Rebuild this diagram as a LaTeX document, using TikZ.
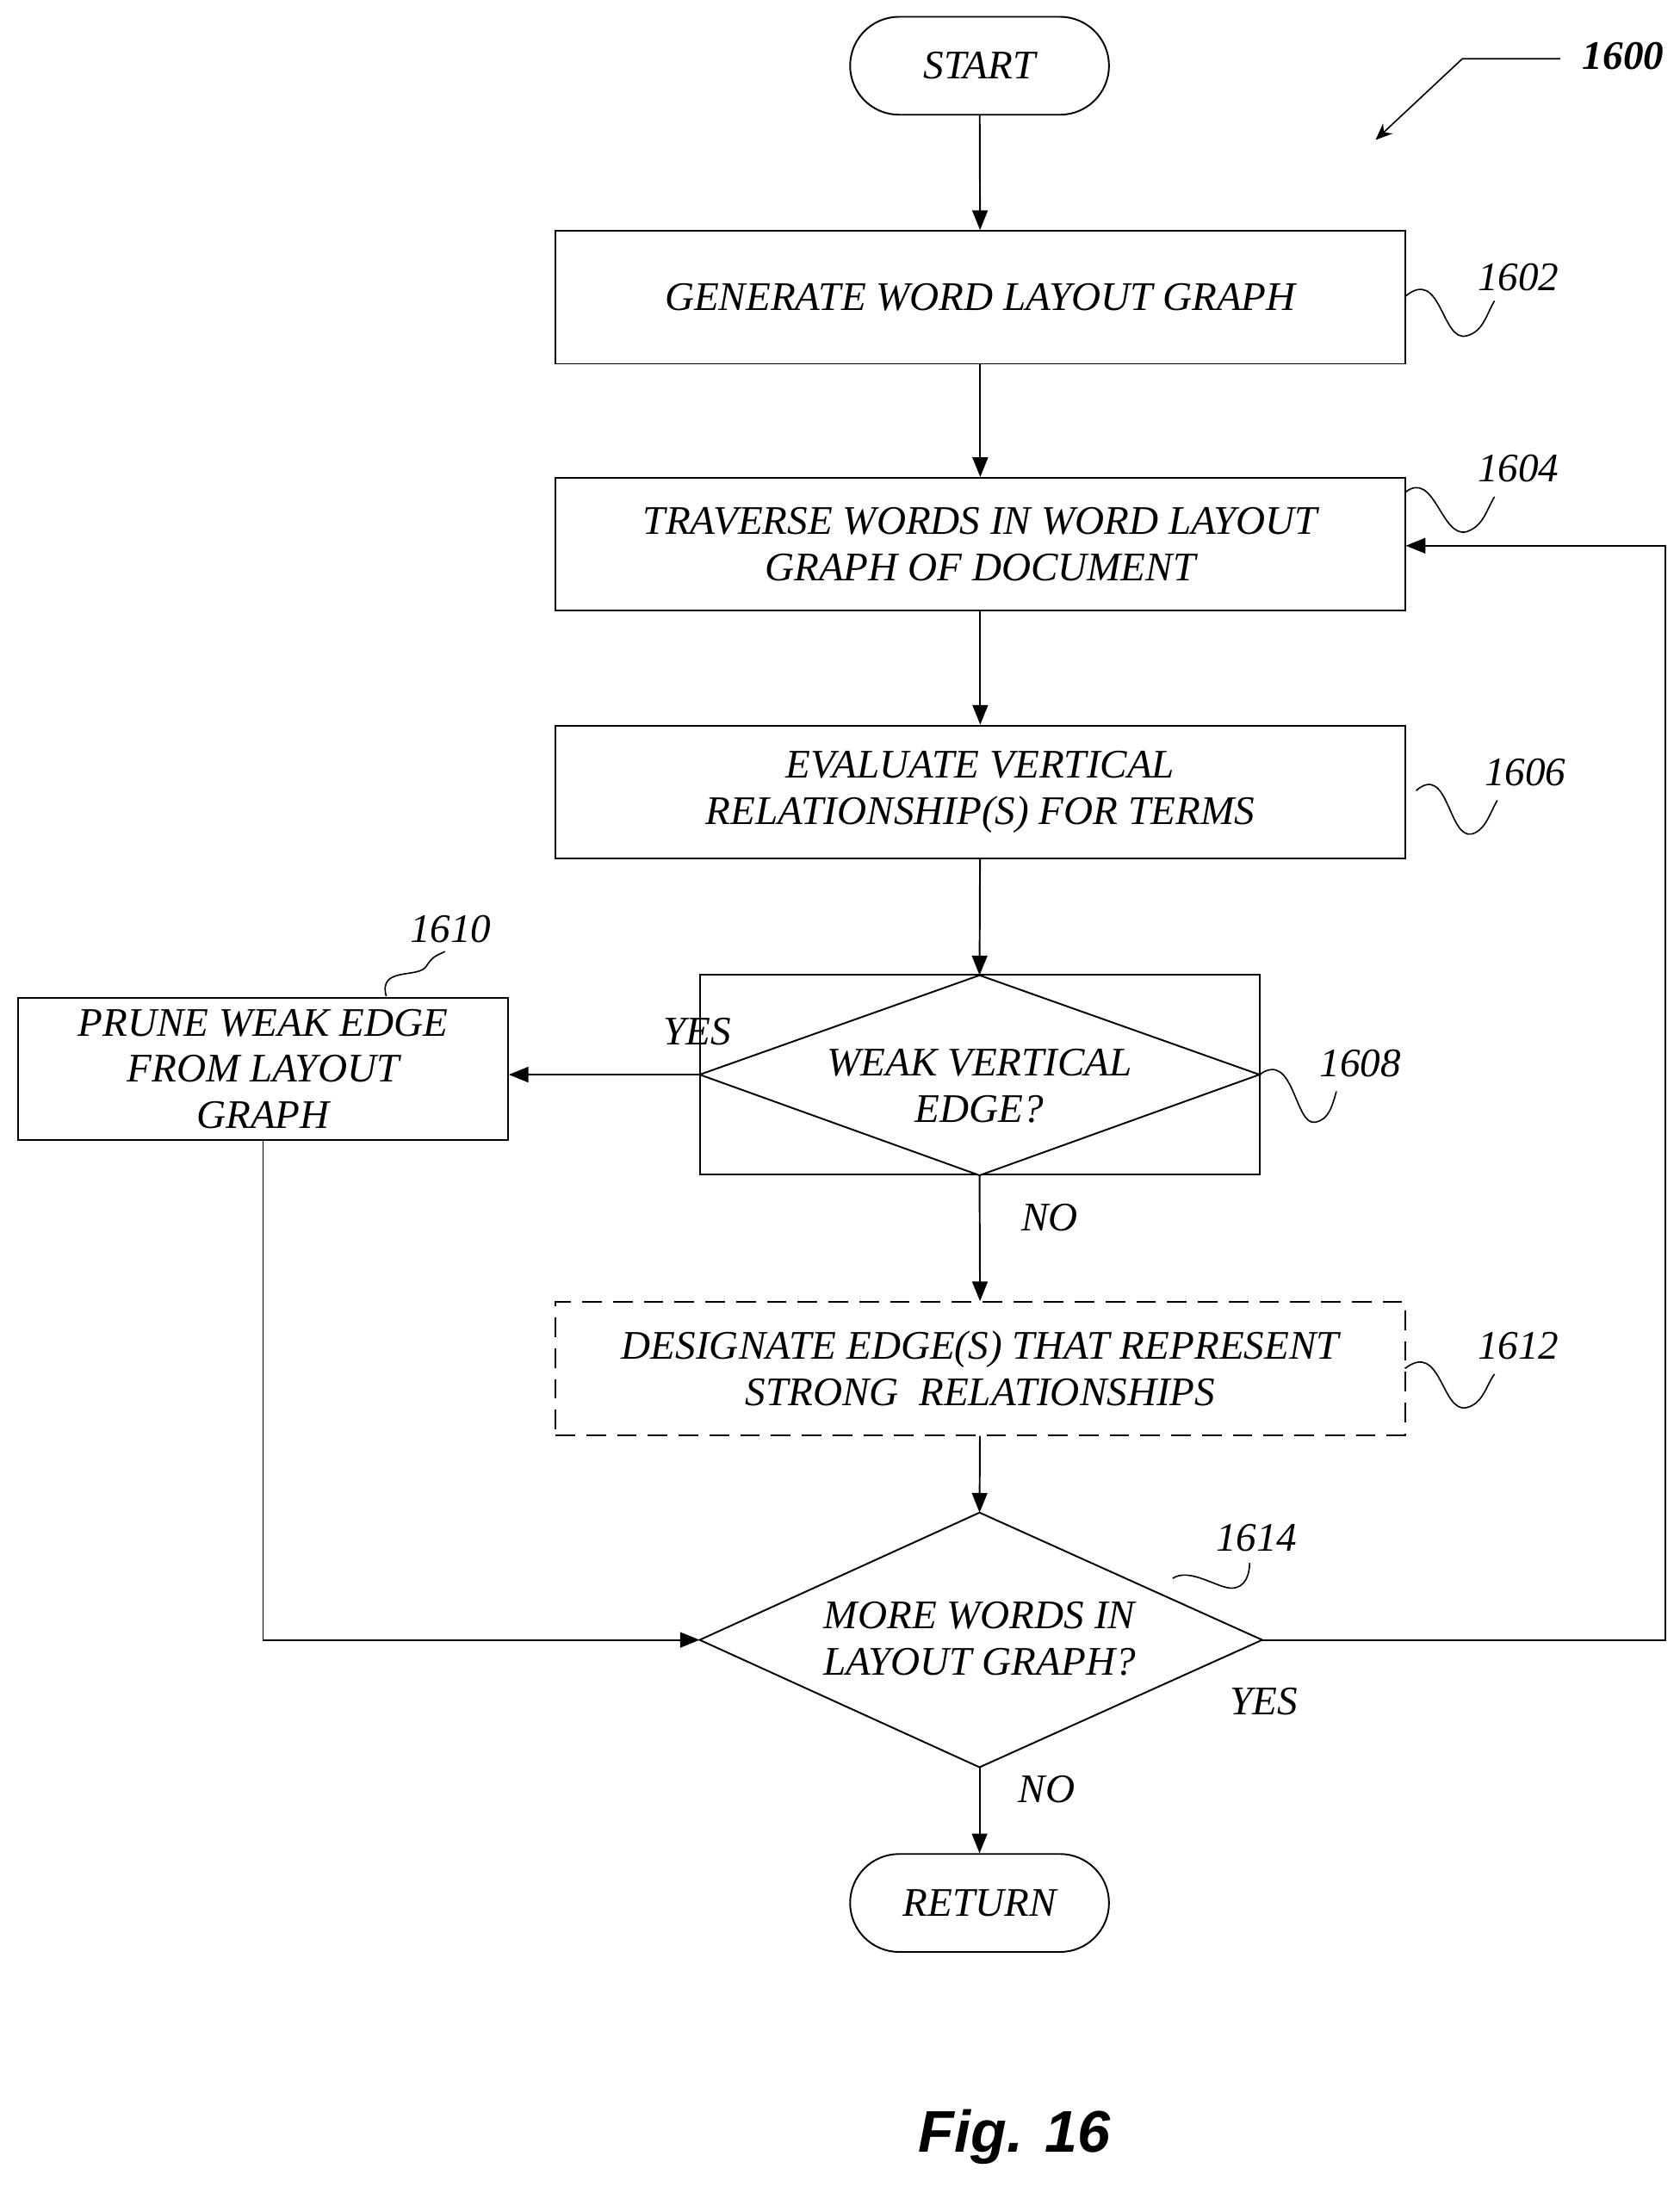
\documentclass[tikz,border=0pt]{standalone}
\usepackage{fontspec}
\setmainfont{Liberation Serif}
\newfontfamily\figfont{Liberation Sans}
\usetikzlibrary{shapes.geometric,arrows.meta}
\begin{document}
\begin{tikzpicture}[x=1pt,y=-1pt,
  every node/.style={font=\fontsize{29}{33}\selectfont\itshape},
  box/.style={draw,line width=1.2pt,minimum width=607pt,minimum height=95pt,align=center,inner sep=0pt},
  term/.style={draw,line width=1.2pt,rounded corners=35pt,minimum width=185pt,minimum height=70pt},
  dia/.style={draw,line width=1.2pt,diamond,aspect=2.8,minimum width=402pt,align=center,inner sep=0pt},
  arr/.style={line width=1.2pt,-{Triangle[length=14pt,width=11pt]}},
  ln/.style={line width=1.2pt},
  sq/.style={line width=1pt}]
\useasboundingbox (0,0) rectangle (1200,1563);
\node[term] (start) at (700,47) {START};
\node[box] (b1602) at (700.5,212.5) {GENERATE WORD LAYOUT GRAPH};
\node[box] (b1604) at (700.5,389) {TRAVERSE WORDS IN WORD LAYOUT\\GRAPH OF DOCUMENT};
\node[box] (b1606) at (700.5,566) {EVALUATE VERTICAL\\RELATIONSHIP(S) FOR TERMS};
\node[draw,line width=1.2pt,minimum width=400pt,minimum height=143pt] (d1608sz) at (700,768) {};
\node[box,dashed,dash pattern=on 14pt off 8pt] (b1612) at (700.5,978) {DESIGNATE EDGE(S) THAT REPRESENT\\STRONG\ \ RELATIONSHIPS};
\node[box,minimum width=350pt,minimum height=102pt] (b1610) at (188,764) {PRUNE WEAK EDGE\\FROM LAYOUT\\GRAPH};
\node[term] (ret) at (700,1360) {RETURN};
% diamonds drawn directly
\coordinate (d8t) at (700,697); \coordinate (d8b) at (700,840);
\coordinate (d8l) at (500,768); \coordinate (d8r) at (900,768);
\draw[ln,fill=white] (d8t)--(d8r)--(d8b)--(d8l)--cycle;
\node[align=center] (t1608) at (700,776) {WEAK VERTICAL\\EDGE?};
\coordinate (d4t) at (700,1081); \coordinate (d4b) at (700,1263);
\coordinate (d4l) at (500,1172); \coordinate (d4r) at (902,1172);
\draw[ln,fill=white] (d4t)--(d4r)--(d4b)--(d4l)--cycle;
\node[align=center] (t1614) at (700,1171) {MORE WORDS IN\\LAYOUT GRAPH?};
% connectors
\draw[arr] (start) -- (b1602);
\draw[arr] (b1602) -- (b1604);
\draw[arr] (b1604) -- (b1606);
\draw[arr] (b1606) -- (d8t);
\draw[arr] (d8l) -- (b1610.east|-d8l);
\draw[arr] (d8b) -- (b1612);
\draw[arr] (b1612) -- (d4t);
\draw[arr] (d4b) -- (ret);
\coordinate (c1) at (188,1172);
\draw[arr] (b1610.south) -- (c1) -- (d4l);
\coordinate (c2) at (1190,1172); \coordinate (c3) at (1190,390);
\draw[arr] (d4r) -- (c2) -- (c3) -- (b1604.east|-c3);
% labels
\node (yes1) at (498,737) {YES};
\node (no1) at (750,870) {NO};
\node (yes2) at (903,1216) {YES};
\node (no2) at (748,1279) {NO};
\node (n1600) at (1160,40) {\textbf{1600}};
\node (n1602) at (1085,198) {1602};
\node (n1604) at (1085,335) {1604};
\node (n1606) at (1090,552) {1606};
\node (n1608) at (972,760) {1608};
\node (n1610) at (322,664) {1610};
\node (n1612) at (1085,962) {1612};
\node (n1614) at (898,1099) {1614};
% squiggles
\draw[sq] (1004,212) .. controls (1030,190) and (1030,245) .. (1048,240) .. controls (1060,237) and (1062,225) .. (1068,215);
\draw[sq] (1004,352) .. controls (1025,335) and (1030,385) .. (1048,380) .. controls (1060,376) and (1062,365) .. (1068,355);
\draw[sq] (1012,565) .. controls (1035,545) and (1035,600) .. (1052,596) .. controls (1062,593) and (1065,580) .. (1070,572);
\draw[sq] (900,768) .. controls (925,750) and (925,805) .. (940,802) .. controls (950,800) and (952,790) .. (955,780);
\draw[sq] (1004,978) .. controls (1030,958) and (1030,1010) .. (1048,1006) .. controls (1060,1003) and (1062,990) .. (1068,982);
\draw[sq] (276,712) .. controls (270,690) and (300,700) .. (305,690) .. controls (310,682) and (315,682) .. (318,680);
\draw[sq] (838,1128) .. controls (850,1120) and (870,1135) .. (880,1135) .. controls (890,1135) and (893,1125) .. (893,1117);
\draw[sq,-{Stealth[length=12pt,width=10pt]}] (1115,42) -- (1045,42) -- (983,100);
\node[font=\figfont\fontsize{42}{46}\selectfont\bfseries\itshape] (fig) at (725,1527) {Fig. 16};
\end{tikzpicture}
\end{document}
